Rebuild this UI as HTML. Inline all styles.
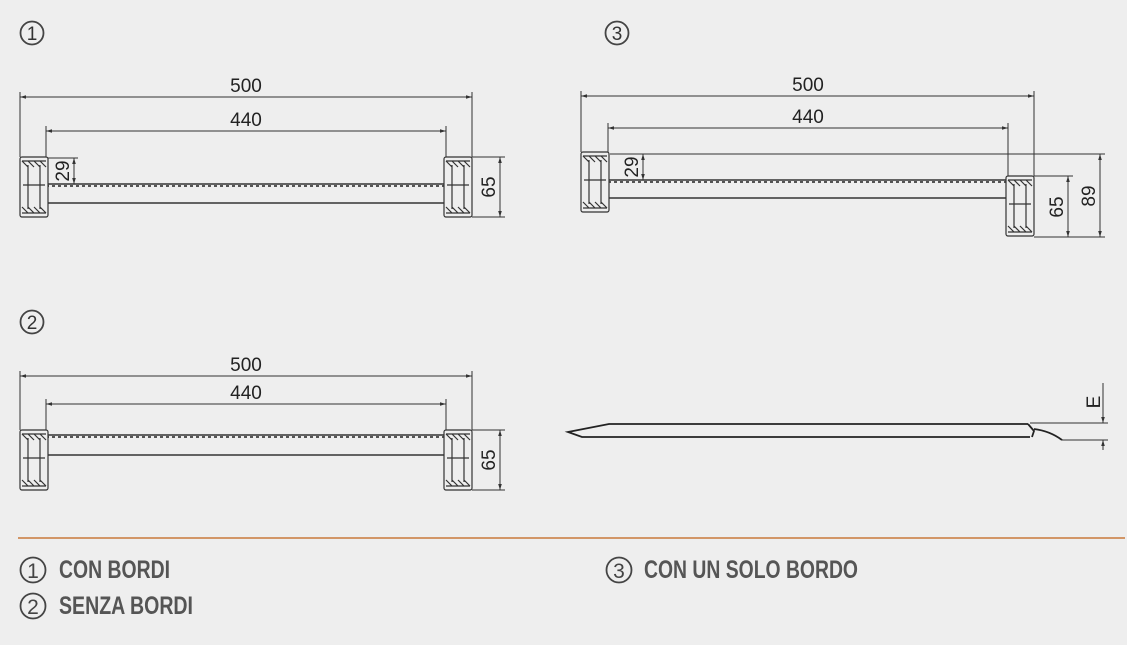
<!DOCTYPE html>
<html><head><style>
body{margin:0;background:#eeeeee;}
svg{display:block;font-family:"Liberation Sans",sans-serif;}
.l{stroke:#333;stroke-width:1;fill:none}
.t{font-size:19px;fill:#222}
.c{fill:none;stroke:#444;stroke-width:1.8}
.lg{font-size:25px;font-weight:bold;fill:#555;font-family:"Liberation Sans Narrow","Liberation Sans",sans-serif}
</style></head><body>
<svg width="1127" height="645" viewBox="0 0 1127 645">
<defs>
<marker id="a" viewBox="0 0 10 10" refX="10" refY="5" markerWidth="6" markerHeight="6" orient="auto-start-reverse"><path d="M0,2 L10,5 L0,8z" fill="#333"/></marker>
<g id="p">
<rect x="0" y="0" width="28" height="60" rx="2" fill="#eee" stroke="#333" stroke-width="1.2"/>
<path d="M2,4 H26 M2,56 H26 M8,8 V52 M20,8 V52 M3,28 H25 M2,4 L8,10 M8,4 L14,10 M14,4 L20,10 M20,4 L26,10 M2,50 L8,56 M8,50 L14,56 M14,50 L20,56 M20,50 L26,56" stroke="#333" stroke-width="1.2" fill="none"/>
</g>
</defs>
<g text-anchor="middle" fill="#333">
<circle class="c" cx="32" cy="33" r="11.5"/><text x="32" y="40" style="font-size:19px">1</text>
<circle class="c" cx="617" cy="33" r="11.5"/><text x="617" y="40" style="font-size:19px">3</text>
<circle class="c" cx="32" cy="322" r="11.5"/><text x="32" y="329" style="font-size:19px">2</text>
</g>

<!-- Diagram 1 -->
<g class="l">
<line x1="20" y1="92" x2="20" y2="157"/><line x1="472" y1="92" x2="472" y2="157"/>
<line x1="20" y1="97" x2="472" y2="97" marker-start="url(#a)" marker-end="url(#a)"/>
<line x1="46" y1="126" x2="46" y2="157"/><line x1="446" y1="126" x2="446" y2="157"/>
<line x1="46" y1="131" x2="446" y2="131" marker-start="url(#a)" marker-end="url(#a)"/>
<line x1="48" y1="158" x2="78" y2="158"/>
<line x1="74" y1="158" x2="74" y2="184" marker-start="url(#a)" marker-end="url(#a)"/>
<line x1="472" y1="157" x2="505" y2="157"/><line x1="472" y1="217" x2="505" y2="217"/>
<line x1="500" y1="157" x2="500" y2="217" marker-start="url(#a)" marker-end="url(#a)"/>
</g>
<rect x="46" y="184" width="400" height="19" fill="#eee" stroke="#333" stroke-width="1.5"/>
<line x1="46" y1="186" x2="446" y2="186" stroke="#555" stroke-width="2" stroke-dasharray="3 3"/>
<use href="#p" x="20" y="157"/><use href="#p" x="444" y="157"/>
<g class="t" text-anchor="middle">
<text x="246" y="92">500</text><text x="246" y="126">440</text>
<text transform="translate(69,171) rotate(-90)">29</text>
<text transform="translate(495,187) rotate(-90)">65</text>
</g>

<!-- Diagram 2 -->
<g class="l">
<line x1="20" y1="371" x2="20" y2="430"/><line x1="472" y1="371" x2="472" y2="430"/>
<line x1="20" y1="376" x2="472" y2="376" marker-start="url(#a)" marker-end="url(#a)"/>
<line x1="46" y1="399" x2="46" y2="430"/><line x1="446" y1="399" x2="446" y2="430"/>
<line x1="46" y1="404" x2="446" y2="404" marker-start="url(#a)" marker-end="url(#a)"/>
<line x1="472" y1="430" x2="505" y2="430"/><line x1="472" y1="490" x2="505" y2="490"/>
<line x1="500" y1="430" x2="500" y2="490" marker-start="url(#a)" marker-end="url(#a)"/>
</g>
<rect x="46" y="435" width="400" height="20" fill="#eee" stroke="#333" stroke-width="1.5"/>
<line x1="46" y1="437" x2="446" y2="437" stroke="#555" stroke-width="2" stroke-dasharray="3 3"/>
<use href="#p" x="20" y="430"/><use href="#p" x="444" y="430"/>
<g class="t" text-anchor="middle">
<text x="246" y="371">500</text><text x="246" y="399">440</text>
<text transform="translate(495,460) rotate(-90)">65</text>
</g>

<!-- Diagram 3 -->
<g class="l">
<line x1="581" y1="91" x2="581" y2="152"/><line x1="1034" y1="91" x2="1034" y2="176"/>
<line x1="581" y1="96" x2="1034" y2="96" marker-start="url(#a)" marker-end="url(#a)"/>
<line x1="608" y1="123" x2="608" y2="152"/><line x1="1008" y1="123" x2="1008" y2="176"/>
<line x1="608" y1="128" x2="1008" y2="128" marker-start="url(#a)" marker-end="url(#a)"/>
<line x1="610" y1="154" x2="1105" y2="154"/>
<line x1="643" y1="154" x2="643" y2="180" marker-start="url(#a)" marker-end="url(#a)"/>
<line x1="1034" y1="176" x2="1073" y2="176"/><line x1="1034" y1="237" x2="1105" y2="237"/>
<line x1="1068" y1="176" x2="1068" y2="237" marker-start="url(#a)" marker-end="url(#a)"/>
<line x1="1100" y1="154" x2="1100" y2="237" marker-start="url(#a)" marker-end="url(#a)"/>
</g>
<rect x="608" y="180" width="400" height="18" fill="#eee" stroke="#333" stroke-width="1.5"/>
<line x1="608" y1="182" x2="1008" y2="182" stroke="#555" stroke-width="2" stroke-dasharray="3 3"/>
<use href="#p" x="581" y="152"/><use href="#p" x="1006" y="176"/>
<g class="t" text-anchor="middle">
<text x="808" y="91">500</text><text x="808" y="123">440</text>
<text transform="translate(638,167) rotate(-90)">29</text>
<text transform="translate(1063,207) rotate(-90)">65</text>
<text transform="translate(1095,196) rotate(-90)">89</text>
</g>

<!-- Ramp -->
<g fill="none" stroke="#222" stroke-width="1.8">
<path d="M1028,424 H609 L568,432 L582,437 H1030"/>
<path d="M1028,424 L1034,431 L1032,437"/>
<path d="M1034,429 Q1050,431 1062,440"/>
</g>
<g class="l">
<line x1="1030" y1="423" x2="1108" y2="423"/><line x1="1062" y1="440" x2="1108" y2="440"/>
<line x1="1103" y1="383" x2="1103" y2="423" marker-end="url(#a)"/>
<line x1="1103" y1="450" x2="1103" y2="440" marker-end="url(#a)"/>
</g>
<text class="t" transform="translate(1100,402) rotate(-90)" text-anchor="middle">E</text>

<line x1="18" y1="538" x2="1125" y2="538" stroke="#c8783a" stroke-width="1.5"/>
<g text-anchor="middle" fill="#444">
<circle class="c" cx="33" cy="570" r="12.5"/><text x="33" y="578" style="font-size:21px">1</text>
<circle class="c" cx="33" cy="606" r="12.5"/><text x="33" y="614" style="font-size:21px">2</text>
<circle class="c" cx="619" cy="570" r="12.5"/><text x="619" y="578" style="font-size:21px">3</text>
</g>
<text class="lg" x="59" y="578" textLength="111" lengthAdjust="spacingAndGlyphs">CON BORDI</text>
<text class="lg" x="59" y="614" textLength="134" lengthAdjust="spacingAndGlyphs">SENZA BORDI</text>
<text class="lg" x="644" y="578" textLength="214" lengthAdjust="spacingAndGlyphs">CON UN SOLO BORDO</text>
</svg>
</body></html>
